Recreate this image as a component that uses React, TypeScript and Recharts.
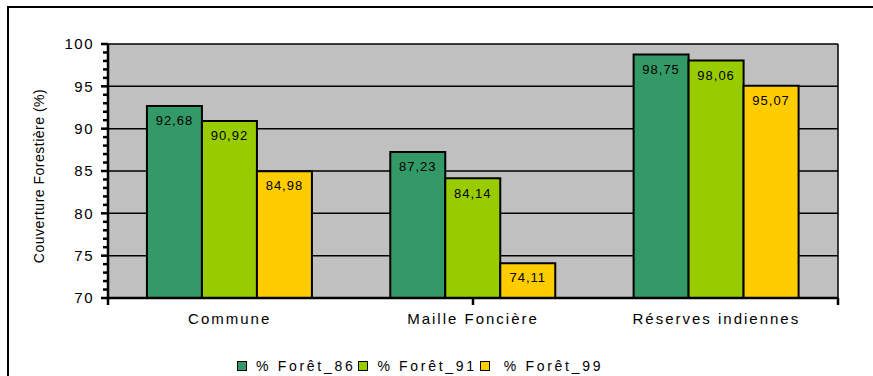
import React from 'react';
import {
  BarChart,
  Bar,
  XAxis,
  YAxis,
  CartesianGrid,
  Legend,
  LabelList,
} from 'recharts';

const categories = ['Commune', 'Maille Foncière', 'Réserves indiennes'];
const foret86 = [92.68, 87.23, 98.75];
const foret91 = [90.92, 84.14, 98.06];
const foret99 = [84.98, 74.11, 95.07];

const seriesNames = ['% Forêt_86', '% Forêt_91', '% Forêt_99'];
const seriesColors = ['#339966', '#99CC00', '#FFCC00'];

const majorTicks = [70, 75, 80, 85, 90, 95, 100];
const allTicks = Array.from({ length: 31 }, (_, i) => 70 + i);
const edgeTicks = [0, 1, 2, 3];

const FONT = 'Arial, "Liberation Sans", sans-serif';

const data = categories.map((name, i) => ({
  name,
  f86: foret86[i],
  f91: foret91[i],
  f99: foret99[i],
}));

const fmt = (v: number) => v.toFixed(2).replace('.', ',');

// y tick: long tick + label every 5, short tick every unit
const YTick = (props: any) => {
  const { x, y, payload } = props;
  const major = payload.value % 5 === 0;
  const len = major ? 7 : 5;
  return (
    <g>
      <rect x={x - len} y={y - 1.25} width={len} height={2.5} fill="#000" />
      {major && (
        <text
          x={x - 14}
          y={y}
          dy="0.36em"
          textAnchor="end"
          fontSize={15}
          fontFamily={FONT}
          letterSpacing={1.5}
          fill="#000"
        >
          {payload.value}
        </text>
      )}
    </g>
  );
};

// boundary tick below the x axis, no text
const EdgeTick = (props: any) => {
  const { x, y } = props;
  return <rect x={x - 1.25} y={y - 16} width={2.5} height={7} fill="#000" />;
};

const LegendBox = (props: any) => {
  const items = props.payload || [];
  return (
    <div
      style={{
        display: 'flex',
        alignItems: 'center',
        height: 20,
        fontFamily: FONT,
        fontSize: 14,
        letterSpacing: 2.7,
        color: '#000',
        whiteSpace: 'nowrap',
      }}
    >
      {items.map((it: any, i: number) => (
        <span key={it.value} style={{ display: 'flex', alignItems: 'center' }}>
          <span
            style={{
              width: 8,
              height: 8,
              background: it.color,
              border: '1.5px solid #000',
              marginRight: i === 2 ? 14 : 9,
              marginLeft: i === 0 ? 0 : 3,
            }}
          />
          {it.value}
        </span>
      ))}
    </div>
  );
};

export default function App() {
  return (
    <div
      style={{
        position: 'fixed',
        left: 0,
        top: 0,
        width: 873,
        height: 376,
        background: '#fff',
        overflow: 'hidden',
      }}
    >
      <div
        style={{
          position: 'absolute',
          left: 7,
          top: 6,
          width: 900,
          height: 400,
          borderLeft: '2.5px solid #000',
          borderTop: '2.5px solid #000',
        }}
      />
      <div style={{ position: 'absolute', left: 0, top: 0 }}>
        <BarChart
          width={873}
          height={376}
          data={data}
          margin={{ top: 44, right: 35, left: 0, bottom: 0 }}
          barCategoryGap="16%"
          barGap={0}
        >
          <CartesianGrid
            fill="#C0C0C0"
            stroke="#000"
            strokeWidth={1.5}
            {...({ horizontalValues: majorTicks } as any)}
            verticalCoordinatesGenerator={(p: any) =>
              p && p.offset ? [p.offset.left + p.offset.width] : []
            }
          />
          <XAxis
            xAxisId="axisB"
            dataKey="name"
            axisLine={false}
            tickLine={false}
            tickSize={0}
            tickMargin={14}
            height={57}
            interval={0}
            tick={{ fontSize: 15, fontFamily: FONT, fill: '#000', letterSpacing: 2 }}
          />
          {/* category boundaries: ticks between groups */}
          <XAxis
            xAxisId="axisA"
            type="number"
            domain={[0, 3]}
            ticks={edgeTicks}
            interval={0}
            tick={<EdgeTick />}
            height={1}
            tickSize={0}
            tickMargin={16}
            axisLine={{ stroke: '#000', strokeWidth: 2.5 }}
            tickLine={false}
          />
          <YAxis
            type="number"
            domain={[70, 100]}
            ticks={allTicks}
            interval={0}
            width={108}
            tickSize={0}
            tickMargin={0}
            tickLine={false}
            tick={<YTick />}
            axisLine={{ stroke: '#000', strokeWidth: 2.5 }}
            label={{
              value: 'Couverture Forestière (%)',
              angle: -90,
              position: 'center',
              dx: -15,
              dy: 5,
              fontSize: 14,
              fontFamily: FONT,
              letterSpacing: 0.5,
              fill: '#000',
            }}
          />
          <Legend
            verticalAlign="bottom"
            align="left"
            content={<LegendBox />}
            wrapperStyle={{ left: 237, width: 'auto' }}
          />
          {['f86', 'f91', 'f99'].map((key, i) => (
            <Bar
              key={key}
              xAxisId="axisB"
              dataKey={key}
              name={seriesNames[i]}
              fill={seriesColors[i]}
              stroke="#000"
              strokeWidth={2}
              isAnimationActive={false}
            >
              <LabelList
                dataKey={key}
                position="insideTop"
                offset={10}
                formatter={(v: any) => fmt(Number(v))}
                fontSize={13}
                fontFamily={FONT}
                letterSpacing={1}
                fill="#000"
              />
            </Bar>
          ))}
        </BarChart>
      </div>
    </div>
  );
}
